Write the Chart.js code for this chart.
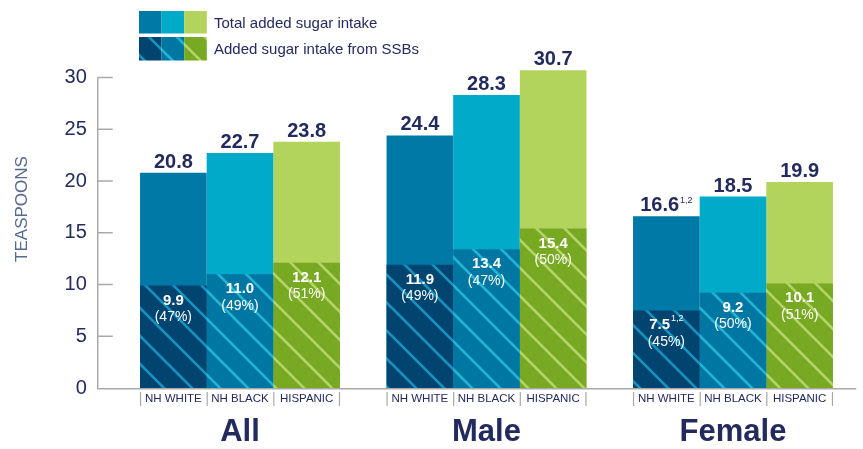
<!DOCTYPE html>
<html>
<head>
<meta charset="utf-8">
<script src="https://cdn.jsdelivr.net/npm/chart.js@4.4.0/dist/chart.umd.min.js"></script>
<style>
  html, body { margin: 0; padding: 0; background: #ffffff; }
  #wrap { width: 863px; height: 449px; }
</style>
</head>
<body>
<div id="wrap"><canvas id="c" width="863" height="449"></canvas></div>
<script>
// ---- data ----
const groups = ['All', 'Male', 'Female'];
const races = ['NH WHITE', 'NH BLACK', 'HISPANIC'];
const yTicks = [0, 5, 10, 15, 20, 25, 30];
const legendLabels = ['Total added sugar intake', 'Added sugar intake from SSBs'];
const axisTitle = 'TEASPOONS';

const totalWhite = [20.8, 24.4, 16.6];
const totalBlack = [22.7, 28.3, 18.5];
const totalHispanic = [23.8, 30.7, 19.9];

const ssbWhite = [9.9, 11.9, 7.5];
const ssbBlack = [11.0, 13.4, 9.2];
const ssbHispanic = [12.1, 15.4, 10.1];

const pctWhite = [47, 49, 45];
const pctBlack = [49, 47, 50];
const pctHispanic = [51, 50, 51];

const noteTotalWhite = ['', '', '1,2'];
const noteSsbWhite = ['', '', '1,2'];

// ---- styles ----
const NAVY = '#232a5e';
const AXIS_GREY = '#a7a9ac';
const FONT = '"Liberation Sans", Arial, Helvetica, sans-serif';

function hatch(base, line) {
  const s = 28;
  const c = document.createElement('canvas');
  c.width = s; c.height = s;
  const g = c.getContext('2d');
  g.fillStyle = base;
  g.fillRect(0, 0, s, s);
  g.strokeStyle = line;
  g.lineWidth = 2.6;
  g.beginPath();
  for (const off of [-s, 0, s]) {
    g.moveTo(off - 2, -2);
    g.lineTo(off + s + 2, s + 2);
  }
  g.stroke();
  return g.createPattern(c, 'repeat');
}

const totalColors = ['#0079a7', '#00aac8', '#b2d35c'];
const ssbFills = [
  hatch('#00446f', '#1694c0'),
  hatch('#0077a2', '#22b6d5'),
  hatch('#78a923', '#b4d46a')
];

const ssbSeries = [ssbWhite, ssbBlack, ssbHispanic];
const totalSeries = [totalWhite, totalBlack, totalHispanic];
const pctSeries = [pctWhite, pctBlack, pctHispanic];
const stacks = ['w', 'b', 'h'];

const datasets = [];
ssbSeries.forEach((d, i) => datasets.push({
  label: legendLabels[1] + ' ' + races[i], data: d, stack: stacks[i],
  backgroundColor: ssbFills[i], borderWidth: 0, clip: false, kind: 'ssb', race: i
}));
totalSeries.forEach((d, i) => datasets.push({
  label: legendLabels[0] + ' ' + races[i], data: d, stack: stacks[i],
  backgroundColor: totalColors[i], borderWidth: 0, clip: false, kind: 'total', race: i
}));

function drawWithSup(ctx, x, y, main, sup, mainFont, supFont, color) {
  ctx.font = mainFont;
  const mw = ctx.measureText(main).width;
  ctx.font = supFont;
  const sw = sup ? ctx.measureText(sup).width + 1 : 0;
  const start = x - (mw + sw) / 2;
  ctx.fillStyle = color;
  ctx.textAlign = 'left';
  ctx.textBaseline = 'alphabetic';
  ctx.font = mainFont;
  ctx.fillText(main, start, y);
  if (sup) {
    ctx.font = supFont;
    ctx.fillText(sup, start + mw + 1, y - 8);
  }
}

const customPlugin = {
  id: 'custom',
  beforeDatasetsDraw(chart) {
    const ctx = chart.ctx;
    const ca = chart.chartArea;
    const ys = chart.scales.y;
    const axisX = ca.left - 19;
    ctx.save();
    ctx.strokeStyle = AXIS_GREY;
    ctx.lineWidth = 1.5;
    ctx.beginPath();
    ctx.moveTo(axisX, ys.getPixelForValue(30));
    ctx.lineTo(axisX, ca.bottom + 0.75);
    ctx.lineTo(ca.right, ca.bottom + 0.75);
    yTicks.forEach(t => {
      if (t === 0) return;
      const py = ys.getPixelForValue(t);
      ctx.moveTo(axisX, py);
      ctx.lineTo(axisX + 15, py);
    });
    ctx.stroke();
    ctx.restore();
  },
  afterDatasetsDraw(chart) {
    const ctx = chart.ctx;
    const ca = chart.chartArea;
    const xs = chart.scales.x;
    ctx.save();
    chart.data.datasets.forEach((ds, di) => {
      const meta = chart.getDatasetMeta(di);
      meta.data.forEach((el, j) => {
        const v = ds.data[j];
        if (ds.kind === 'total') {
          const sup = ds.race === 0 ? noteTotalWhite[j] : '';
          drawWithSup(ctx, el.x, el.y - 5, v.toFixed(1), sup,
            'bold 20px ' + FONT, '9px ' + FONT, NAVY);
        } else {
          const sup = ds.race === 0 ? noteSsbWhite[j] : '';
          drawWithSup(ctx, el.x, el.y + 19, v.toFixed(1), sup,
            'bold 15px ' + FONT, '9px ' + FONT, '#ffffff');
          ctx.font = '14px ' + FONT;
          ctx.textAlign = 'center';
          ctx.fillStyle = '#ffffff';
          ctx.fillText('(' + pctSeries[ds.race][j] + '%)', el.x, el.y + 35.5);
          // race labels and separators below axis
          ctx.fillStyle = NAVY;
          ctx.font = '11.5px ' + FONT;
          ctx.textBaseline = 'middle';
          ctx.fillText(races[ds.race], el.x, ca.bottom + 11);
          ctx.textBaseline = 'alphabetic';
          ctx.strokeStyle = AXIS_GREY;
          ctx.lineWidth = 1.2;
          ctx.beginPath();
          ctx.moveTo(el.x - el.width / 2 + 0.5, ca.bottom + 4);
          ctx.lineTo(el.x - el.width / 2 + 0.5, ca.bottom + 18);
          if (ds.race === 2) {
            ctx.moveTo(el.x + el.width / 2 - 0.5, ca.bottom + 4);
            ctx.lineTo(el.x + el.width / 2 - 0.5, ca.bottom + 18);
          }
          ctx.stroke();
        }
      });
    });
    // group labels
    ctx.fillStyle = NAVY;
    ctx.font = 'bold 31px ' + FONT;
    ctx.textAlign = 'center';
    ctx.textBaseline = 'middle';
    groups.forEach((g, i) => ctx.fillText(g, xs.getPixelForValue(i), ca.bottom + 44));
    // axis title
    ctx.save();
    ctx.translate(22, 209);
    ctx.rotate(-Math.PI / 2);
    ctx.fillStyle = '#56698f';
    ctx.font = '17px ' + FONT;
    ctx.textAlign = 'center';
    ctx.textBaseline = 'middle';
    ctx.fillText(axisTitle, 0, 0);
    ctx.restore();
    // legend
    const sw = 22.6, lx = 139;
    totalColors.forEach((c, i) => { ctx.fillStyle = c; ctx.fillRect(lx + i * sw, 11, sw, 22.5); });
    ssbFills.forEach((c, i) => { ctx.fillStyle = c; ctx.fillRect(lx + i * sw, 37, sw, 23.5); });
    ctx.fillStyle = NAVY;
    ctx.font = '15px ' + FONT;
    ctx.textAlign = 'left';
    ctx.textBaseline = 'alphabetic';
    ctx.fillText(legendLabels[0], 214, 28);
    ctx.fillText(legendLabels[1], 214, 53.5);
    ctx.restore();
  }
};

new Chart(document.getElementById('c'), {
  type: 'bar',
  data: { labels: groups, datasets: datasets },
  options: {
    responsive: false,
    animation: false,
    devicePixelRatio: 1,
    layout: { padding: { left: 0, right: 6.75, top: 77.5, bottom: 61 } },
    datasets: { bar: { categoryPercentage: 0.811, barPercentage: 1.0 } },
    plugins: { legend: { display: false }, tooltip: { enabled: false } },
    scales: {
      x: { display: false },
      y: {
        stacked: false,
        min: 0, max: 30,
        afterFit: (s) => { s.width = 116.75; },
        afterBuildTicks: (s) => { s.ticks = yTicks.map(v => ({ value: v })); },
        grid: { display: false, drawTicks: false },
        border: { display: false },
        ticks: { padding: 30, color: NAVY, font: { family: FONT, size: 20 } }
      }
    }
  },
  plugins: [customPlugin]
});
</script>
</body>
</html>
